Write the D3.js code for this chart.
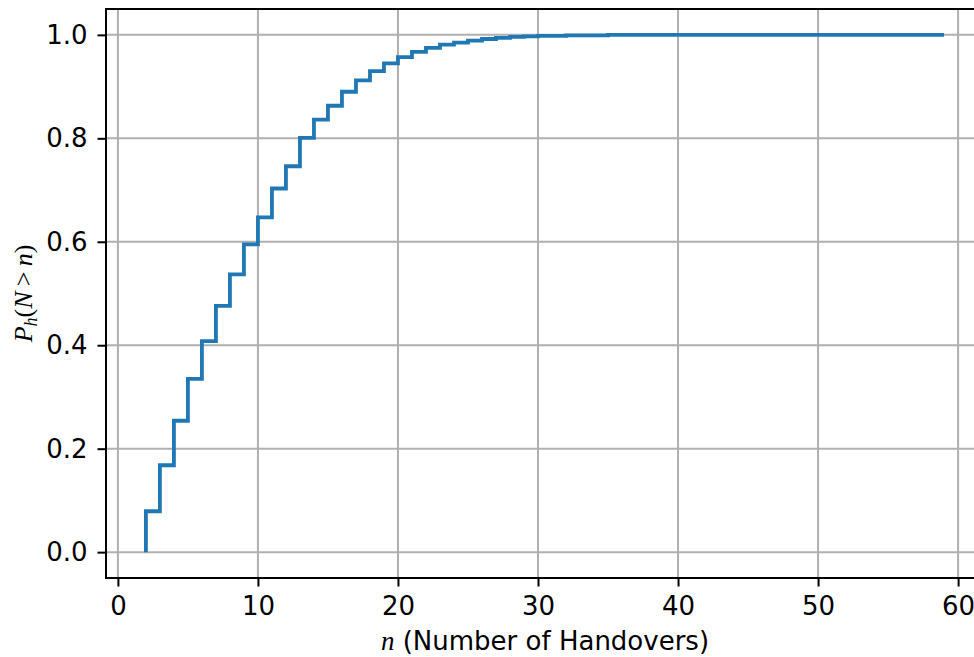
<!DOCTYPE html>
<html>
<head>
<meta charset="utf-8">
<script src="https://cdn.jsdelivr.net/npm/d3@7"></script>
<style>
  html, body { margin: 0; padding: 0; background: #fff; overflow: hidden; }
  svg { display: block; }
</style>
</head>
<body>
<svg id="chart" width="974" height="657"></svg>
<script>
// Data: number of handovers n and complementary probability P_h(N>n)
const nValues = [2, 3, 4, 5, 6, 7, 8, 9, 10, 11, 12, 13, 14, 15, 16, 17, 18, 19, 20,
  21, 22, 23, 24, 25, 26, 27, 28, 29, 30, 31, 32, 33, 34, 35, 36, 37, 38, 39, 40,
  41, 42, 43, 44, 45, 46, 47, 48, 49, 50, 51, 52, 53, 54, 55, 56, 57, 58, 59];
const probValues = [0.000, 0.079, 0.168, 0.254, 0.335, 0.408, 0.476, 0.537, 0.595, 0.647,
  0.703, 0.746, 0.801, 0.836, 0.863, 0.890, 0.912, 0.930, 0.945, 0.957,
  0.967, 0.975, 0.981, 0.985, 0.989, 0.992, 0.994, 0.996, 0.997, 0.998,
  0.998, 0.999, 0.999, 0.999, 1.000, 1.000, 1.000, 1.000, 1.000, 1.000,
  1.000, 1.000, 1.000, 1.000, 1.000, 1.000, 1.000, 1.000, 1.000, 1.000,
  1.000, 1.000, 1.000, 1.000, 1.000, 1.000, 1.000, 1.000];
const xTicks = [0, 10, 20, 30, 40, 50, 60];
const yTicks = [0.0, 0.2, 0.4, 0.6, 0.8, 1.0];

const svg = d3.select("#chart");
const mLeft = 106, mRight = 984, mTop = 9, mBottom = 578;

const x = d3.scaleLinear().domain([-0.85, 61.85]).range([mLeft, mRight]);
const y = d3.scaleLinear().domain([-0.05, 1.05]).range([mBottom, mTop]);

const tickFont = "DejaVu Sans, sans-serif";
const tickSize = 26;

// Grid
const grid = svg.append("g");
grid.selectAll("line.vx").data(xTicks).enter().append("line")
  .attr("x1", d => x(d)).attr("x2", d => x(d))
  .attr("y1", mTop).attr("y2", mBottom)
  .attr("stroke", "#b0b0b0").attr("stroke-width", 2);
grid.selectAll("line.hy").data(yTicks).enter().append("line")
  .attr("x1", mLeft).attr("x2", mRight)
  .attr("y1", d => y(d)).attr("y2", d => y(d))
  .attr("stroke", "#b0b0b0").attr("stroke-width", 2);

// Data line (step, steps-pre)
const data = nValues.map((n, i) => [n, probValues[i]]);
const line = d3.line().x(d => x(d[0])).y(d => y(d[1])).curve(d3.curveStepBefore);
svg.append("path").datum(data)
  .attr("d", line)
  .attr("fill", "none")
  .attr("stroke", "#1f77b4")
  .attr("stroke-width", 3.8)
  .attr("stroke-linejoin", "miter")
  .attr("stroke-linecap", "butt");

// Axes
const xAxis = d3.axisBottom(x).tickValues(xTicks).tickFormat(d3.format("d")).tickSize(8.5).tickPadding(10.5);
const yAxis = d3.axisLeft(y).tickValues(yTicks).tickFormat(d3.format(".1f")).tickSize(8.5).tickPadding(10);

const gx = svg.append("g").attr("transform", `translate(0,${mBottom})`).call(xAxis);
const gy = svg.append("g").attr("transform", `translate(${mLeft},0)`).call(yAxis);
[gx, gy].forEach(g => {
  g.select(".domain").remove();
  g.selectAll(".tick line").attr("stroke", "#000").attr("stroke-width", 2);
  g.selectAll(".tick text").attr("fill", "#000")
    .style("font-family", tickFont).style("font-size", tickSize + "px");
});

// Spines
svg.append("rect")
  .attr("x", mLeft).attr("y", mTop)
  .attr("width", mRight - mLeft).attr("height", mBottom - mTop)
  .attr("fill", "none").attr("stroke", "#000").attr("stroke-width", 2);

// X label
const xl = svg.append("text")
  .attr("x", (mLeft + mRight) / 2).attr("y", 650)
  .attr("text-anchor", "middle")
  .style("font-family", tickFont).style("font-size", tickSize + "px")
  .attr("fill", "#000");
xl.append("tspan").text("n").style("font-family", "Liberation Serif, serif").style("font-style", "italic").style("font-size", "27px");
xl.append("tspan").text(" (Number of Handovers)");

// Y label
const yl = svg.append("text")
  .attr("transform", `translate(32,${(mTop + mBottom) / 2}) rotate(-90)`)
  .attr("text-anchor", "middle")
  .style("font-family", "Liberation Serif, serif").style("font-style", "italic").style("font-size", "26px")
  .attr("fill", "#000");
yl.append("tspan").text("P");
yl.append("tspan").text("h").attr("dy", 5).style("font-size", "18px");
yl.append("tspan").text("(").attr("dy", -5).style("font-style", "normal");
yl.append("tspan").text("N");
yl.append("tspan").text("\u2009>\u2009").style("font-style", "normal");
yl.append("tspan").text("n");
yl.append("tspan").text(")").style("font-style", "normal");
</script>
</body>
</html>
